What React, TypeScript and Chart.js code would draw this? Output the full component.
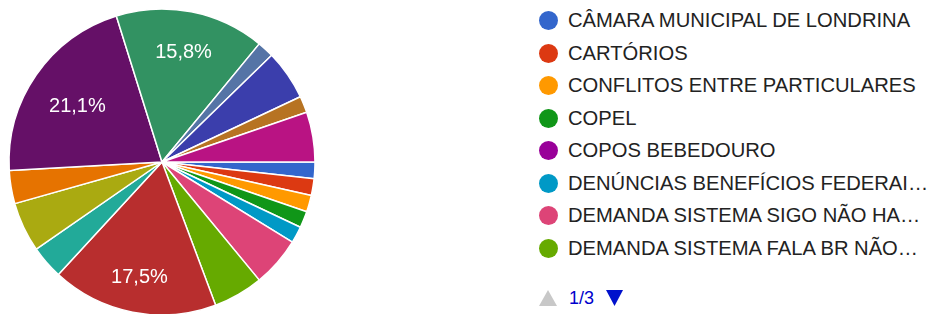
import React, { useEffect, useRef } from "react";
import { Chart, registerables } from "chart.js";

Chart.register(...registerables);

// Categories in the order the pie draws them (clockwise from 3 o'clock)
const categories = [
  "CÂMARA MUNICIPAL DE LONDRINA",
  "CARTÓRIOS",
  "CONFLITOS ENTRE PARTICULARES",
  "COPEL",
  "COPOS BEBEDOURO",
  "DENÚNCIAS BENEFÍCIOS FEDERAIS",
  "DEMANDA SISTEMA SIGO NÃO HA…",
  "DEMANDA SISTEMA FALA BR NÃO…",
  "CATEGORIA 9",
  "CATEGORIA 10",
  "CATEGORIA 11",
  "CATEGORIA 12",
  "CATEGORIA 13",
  "CATEGORIA 14",
  "CATEGORIA 15",
  "CATEGORIA 16",
  "CATEGORIA 17",
  "CATEGORIA 18",
  "CATEGORIA 19",
  "CATEGORIA 20",
  "CATEGORIA 21",
  "CATEGORIA 22",
  "CATEGORIA 23",
];

// Response counts (total 57)
const counts = [1, 1, 1, 1, 0, 1, 3, 3, 10, 0, 0, 2, 3, 0, 2, 0, 12, 9, 1, 3, 1, 0, 3];

const legendLabels = [
  "CÂMARA MUNICIPAL DE LONDRINA",
  "CARTÓRIOS",
  "CONFLITOS ENTRE PARTICULARES",
  "COPEL",
  "COPOS BEBEDOURO",
  "DENÚNCIAS BENEFÍCIOS FEDERAI…",
  "DEMANDA SISTEMA SIGO NÃO HA…",
  "DEMANDA SISTEMA FALA BR NÃO…",
];

const pageLabel = "1/3";

const colors = [
  "#3366cc", "#dc3912", "#ff9900", "#109618", "#990099", "#0099c6",
  "#dd4477", "#66aa00", "#b82e2e", "#316395", "#994499", "#22aa99",
  "#aaaa11", "#6633cc", "#e67300", "#8b0707", "#651067", "#329262",
  "#5574a6", "#3b3eac", "#b77322", "#16d620", "#b91383",
];

const percentLabels = {
  id: "percentLabels",
  afterDatasetsDraw(chart: any) {
    const ctx = chart.ctx;
    const meta = chart.getDatasetMeta(0);
    const data = chart.data.datasets[0].data as number[];
    const total = data.reduce((a, b) => a + b, 0);
    ctx.save();
    ctx.fillStyle = "#ffffff";
    ctx.font = "20px Arial, 'Liberation Sans', sans-serif";
    ctx.textAlign = "center";
    ctx.textBaseline = "middle";
    meta.data.forEach((arc: any, i: number) => {
      const v = data[i];
      if (!v || v / total < 0.15) return;
      const p = arc.getProps(["x", "y", "startAngle", "endAngle", "outerRadius"], true);
      const mid = (p.startAngle + p.endAngle) / 2;
      const txt = ((v / total) * 100).toFixed(1).replace(".", ",") + "%";
      const w = ctx.measureText(txt).width;
      const h = 14;
      const ux = Math.cos(mid);
      const uy = Math.sin(mid);
      // place the label box so its farthest corner sits at 0.85 of the radius
      const cx = Math.sign(ux) * w / 2;
      const cy = Math.sign(uy) * h / 2;
      const R0 = p.outerRadius * 0.85;
      const dot = ux * cx + uy * cy;
      const t = -dot + Math.sqrt(dot * dot - (cx * cx + cy * cy) + R0 * R0);
      ctx.fillText(txt, p.x + ux * t - 0.5, p.y + uy * t + 3);
    });
    ctx.restore();
  },
};

export default function App() {
  const ref = useRef<HTMLCanvasElement | null>(null);

  useEffect(() => {
    if (!ref.current) return;
    const chart = new Chart(ref.current, {
      type: "pie",
      data: {
        labels: categories,
        datasets: [
          {
            data: counts,
            backgroundColor: colors,
            borderColor: "#ffffff",
            borderWidth: 1.5,
            radius: 153,
          } as any,
        ],
      },
      options: {
        animation: false,
        responsive: false,
        rotation: 90,
        layout: { padding: 0 },
        plugins: {
          legend: { display: false },
          tooltip: { enabled: false },
        },
      },
      plugins: [percentLabels],
    });
    return () => chart.destroy();
  }, []);

  const font = "Arial, 'Liberation Sans', sans-serif";

  return (
    <div
      style={{
        position: "absolute",
        left: 0,
        top: 0,
        width: 931,
        height: 314,
        overflow: "hidden",
        background: "#ffffff",
        fontFamily: font,
      }}
    >
      <canvas
        ref={ref}
        width={324}
        height={324}
        style={{ position: "absolute", left: 0, top: 0, width: 324, height: 324 }}
      />
      {legendLabels.map((lab, i) => (
        <div
          key={lab}
          style={{
            position: "absolute",
            left: 539,
            top: 20.5 + i * 32.5 - 12,
            height: 24,
            display: "flex",
            alignItems: "center",
            whiteSpace: "nowrap",
          }}
        >
          <span
            style={{
              display: "inline-block",
              width: 19,
              height: 19,
              borderRadius: "50%",
              background: colors[i],
              marginRight: 10,
            }}
          />
          <span style={{ fontSize: 20.2, color: "#222222" }}>{lab}</span>
        </div>
      ))}
      <div
        style={{
          position: "absolute",
          left: 539,
          top: 286,
          height: 24,
          display: "flex",
          alignItems: "center",
        }}
      >
        <svg width={18} height={16} style={{ marginRight: 12 }}>
          <polygon points="9,0 18,16 0,16" fill="#c8c8c8" />
        </svg>
        <span style={{ fontSize: 18, color: "#0000cc" }}>{pageLabel}</span>
        <svg width={17} height={16} style={{ marginLeft: 12 }}>
          <polygon points="0,0 17,0 8.5,16" fill="#0011cc" />
        </svg>
      </div>
    </div>
  );
}
